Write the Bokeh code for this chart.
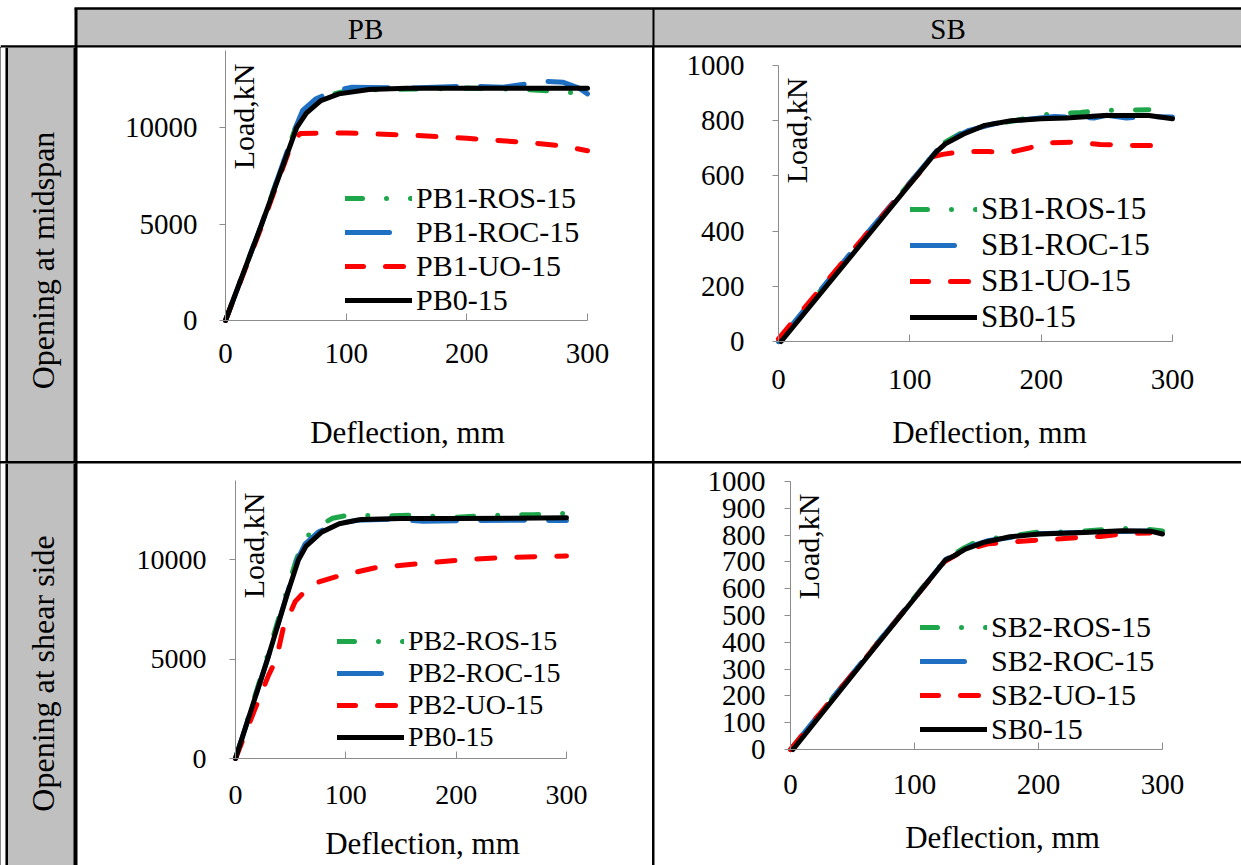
import math
from bokeh.plotting import figure
from bokeh.models import Range1d, FixedTicker, Legend, LegendItem, Label, Row, Column
from bokeh.embed import file_html
from bokeh.resources import INLINE
from bokeh.core.properties import value

FONT = "Times New Roman"

# ---------------- table texts ----------------
col_headers = ["PB", "SB"]
row_headers = ["Opening at midspan", "Opening at shear side"]
x_title = "Deflection, mm"
y_title = "Load,kN"

# ---------------- ticks ----------------
x_ticks = [0, 100, 200, 300]
pb_y_ticks = [0, 5000, 10000]
sb1_y_ticks = [0, 200, 400, 600, 800, 1000]
sb2_y_ticks = [0, 100, 200, 300, 400, 500, 600, 700, 800, 900, 1000]

# ---------------- PB, opening at midspan ----------------
pb1_names = ["PB1-ROS-15", "PB1-ROC-15", "PB1-UO-15", "PB0-15"]
pb1_ros_x = [0, 30, 58, 66, 80, 100, 130, 160, 200, 240, 270, 290, 300]
pb1_ros_y = [0, 5000, 10000, 10900, 11600, 11900, 11980, 12000, 12050, 12000, 11900, 11800, 11900]
pb1_roc_x = [0, 30, 58, 64, 75, 90, 105, 150, 200, 230, 265, 280, 293, 300]
pb1_roc_y = [0, 5000, 10000, 10900, 11500, 11900, 12100, 12050, 12150, 12100, 12400, 12350, 12050, 11750]
pb1_uo_x = [0, 30, 55, 62, 100, 150, 200, 250, 280, 300]
pb1_uo_y = [0, 4900, 9200, 9700, 9720, 9620, 9450, 9230, 9050, 8800]
pb1_ref_x = [0, 30, 59, 67, 79, 94, 119, 150, 200, 250, 300]
pb1_ref_y = [0, 5000, 10000, 10750, 11400, 11750, 11980, 12040, 12040, 12040, 12040]

# ---------------- SB, opening at midspan ----------------
sb1_names = ["SB1-ROS-15", "SB1-ROC-15", "SB1-UO-15", "SB0-15"]
sb1_ros_x = [0, 60, 120, 126, 140, 160, 180, 200, 210, 230, 250, 262, 282]
sb1_ros_y = [0, 345, 690, 720, 758, 785, 800, 820, 825, 830, 838, 838, 840]
sb1_roc_x = [0, 60, 122, 130, 145, 165, 190, 210, 240, 250, 265, 280, 300]
sb1_roc_y = [0, 350, 700, 730, 765, 790, 805, 815, 810, 820, 810, 815, 813]
sb1_uo_x = [0, 60, 118, 125, 140, 160, 175, 190, 205, 225, 245, 270, 290]
sb1_uo_y = [10, 350, 670, 678, 688, 688, 684, 700, 720, 722, 714, 710, 710]
sb1_ref_x = [2, 60, 120, 127, 141, 157, 177, 200, 219, 248, 282, 300]
sb1_ref_y = [0, 337, 686, 716, 752, 783, 800, 807, 810, 819, 819, 807]

# ---------------- PB, opening at shear side ----------------
pb2_names = ["PB2-ROS-15", "PB2-ROC-15", "PB2-UO-15", "PB0-15"]
pb2_ros_x = [0, 28, 55, 62, 72, 88, 105, 130, 160, 200, 230, 270, 300]
pb2_ros_y = [0, 5000, 10000, 11000, 11600, 12100, 12280, 12200, 12250, 12150, 12250, 12280, 12350]
pb2_roc_x = [0, 29, 56, 63, 75, 90, 110, 140, 170, 220, 250, 300]
pb2_roc_y = [0, 5000, 10000, 10800, 11400, 11800, 12000, 12050, 11950, 11980, 12000, 11980]
pb2_uo_x = [0, 17, 30, 37, 43, 54, 69, 94, 128, 178, 211, 245, 300]
pb2_uo_y = [0, 2400, 4200, 5000, 6500, 7900, 8780, 9200, 9620, 9870, 10030, 10120, 10200]
pb2_ref_x = [0, 29, 47, 57, 64, 78, 94, 114, 150, 200, 250, 300]
pb2_ref_y = [0, 5000, 8300, 10000, 10700, 11400, 11820, 12040, 12090, 12090, 12100, 12120]

# ---------------- SB, opening at shear side ----------------
sb2_names = ["SB2-ROS-15", "SB2-ROC-15", "SB2-UO-15", "SB0-15"]
sb2_ros_x = [0, 60, 125, 140, 150, 160, 180, 200, 230, 255, 265, 283, 300]
sb2_ros_y = [0, 340, 710, 752, 775, 785, 798, 812, 812, 822, 825, 825, 815]
sb2_roc_x = [0, 60, 125, 140, 160, 200, 250, 290, 300]
sb2_roc_y = [0, 340, 708, 750, 780, 805, 812, 815, 818]
sb2_uo_x = [0, 60, 124, 135, 145, 160, 180, 200, 215, 235, 250, 270, 290]
sb2_uo_y = [0, 338, 700, 730, 750, 768, 775, 782, 785, 792, 795, 805, 808]
sb2_ref_x = [2, 60, 125, 132, 141, 156, 177, 201, 237, 267, 291, 300]
sb2_ref_y = [0, 335, 707, 723, 748, 773, 794, 804, 810, 816, 814, 804]

# ---------------- styles ----------------
STYLES = [
    dict(line_color="#1ea64b", line_dash="17 24 0 24"),
    dict(line_color="#1f6fc2", line_dash="44 24"),
    dict(line_color="#ff0000", line_dash="18 22"),
    dict(line_color="#000000", line_dash="solid"),
]
AXIS_GREY = "#8c8c8c"
CELL_GREY = "#c0c0c0"


def chart(cell, axes_px, x_max, y_max, y_ticks, xs, ys, names, leg_loc, leg_font,
          tick_font, load_top, title_c, y_standoff, x_standoff):
    cl, ct, W, H = cell
    ax0, ax300, ay0, aytop = axes_px
    sx = (ax300 - ax0) / x_max
    sy = (ay0 - aytop) / y_max

    def X(px):
        return (px - ax0) / sx

    def Y(py):
        return (ay0 - py) / sy

    p = figure(width=W, height=H,
               x_range=Range1d(X(cl), X(cl + W)), y_range=Range1d(Y(ct + H), Y(ct)),
               output_backend="svg", toolbar_location=None, min_border=0)
    p.outline_line_color = None
    p.grid.visible = False
    p.background_fill_color = "white"
    p.border_fill_color = "white"

    xa = p.xaxis[0]
    xa.fixed_location = 0
    xa.bounds = (0, x_max)
    xa.ticker = FixedTicker(ticks=x_ticks)
    xa.axis_line_color = AXIS_GREY
    xa.major_tick_line_color = AXIS_GREY
    xa.major_tick_in = 7
    xa.major_tick_out = 0
    xa.minor_tick_line_color = None
    xa.major_label_standoff = x_standoff
    xa.major_label_text_font = FONT
    xa.major_label_text_font_size = tick_font
    xa.major_label_text_color = "black"

    ya = p.yaxis[0]
    ya.fixed_location = 0
    ya.bounds = (0, y_max)
    ya.ticker = FixedTicker(ticks=y_ticks)
    ya.axis_line_color = AXIS_GREY
    ya.major_tick_line_color = AXIS_GREY
    ya.major_tick_in = 0
    ya.major_tick_out = 6
    ya.minor_tick_line_color = None
    ya.major_label_standoff = y_standoff
    ya.major_label_text_font = FONT
    ya.major_label_text_font_size = tick_font
    ya.major_label_text_color = "black"

    items = []
    for x, y, name, st in zip(xs, ys, names, STYLES):
        r = p.line(x, y, line_width=5, line_cap="round", line_join="round", **st)
        items.append(LegendItem(label=name, renderers=[r]))

    leg = Legend(items=items, location=(leg_loc[0] - cl, ct + H - leg_loc[1]),
                 orientation="vertical",
                 glyph_width=67, glyph_height=18, label_standoff=4,
                 label_text_font=FONT, label_text_font_size=leg_font,
                 label_text_color="black", label_height=18,
                 spacing=0, padding=0, margin=0,
                 background_fill_alpha=0, border_line_alpha=0)
    p.add_layout(leg)

    p.add_layout(Label(x=0, y=Y(load_top), x_offset=1, text=y_title, angle=math.pi / 2,
                       text_align="right", text_baseline="top",
                       text_font=FONT, text_font_size="30px", text_color="black"))
    p.add_layout(Label(x=X(title_c[0]), y=Y(title_c[1]), text=x_title,
                       text_align="center", text_baseline="middle",
                       text_font=FONT, text_font_size="31px", text_color="black"))
    return p


def label_cell(w, h, text, yc):
    p = figure(width=w, height=h, x_range=Range1d(0, w), y_range=Range1d(0, h),
               output_backend="svg", toolbar_location=None,
               x_axis_location=None, y_axis_location=None, min_border=0)
    p.outline_line_color = None
    p.grid.visible = False
    p.background_fill_color = CELL_GREY
    p.border_fill_color = CELL_GREY
    p.quad(left=[0, 5, 73], right=[5, 7.5, w], bottom=[0, 0, 0], top=[h, h, h],
           fill_color=["white", "black", "black"], line_color=None)
    p.text(x=[42], y=[yc], text=[text], angle=math.pi / 2,
           text_align="center", text_baseline="middle",
           text_font=value(FONT), text_font_size="32px", text_color="black")
    return p


# header strip
head = figure(width=1241, height=47, x_range=Range1d(0, 1241), y_range=Range1d(47, 0),
              output_backend="svg", toolbar_location=None,
              x_axis_location=None, y_axis_location=None, min_border=0)
head.outline_line_color = None
head.grid.visible = False
head.background_fill_color = "white"
head.border_fill_color = "white"
head.quad(left=[75], right=[1241], top=[8], bottom=[46], fill_color=CELL_GREY, line_color=None)
head.segment(x0=[74, 0], y0=[8, 46], x1=[1241, 1241], y1=[8, 46], line_color="black", line_width=2.5)
head.segment(x0=[75.5, 653], y0=[8, 8], x1=[75.5, 653], y1=[47, 47], line_color="black", line_width=[3, 2])
head.text(x=[365, 947.5], y=[28, 28], text=col_headers, text_align="center", text_baseline="middle",
          text_font=value(FONT), text_font_size="29px", text_color="black")

pb1 = chart((77, 47, 575, 414), (225, 587, 320, 50), 300, 14000, pb_y_ticks,
            [pb1_ros_x, pb1_roc_x, pb1_uo_x, pb1_ref_x],
            [pb1_ros_y, pb1_roc_y, pb1_uo_y, pb1_ref_y],
            pb1_names, (345, 317), "30px", "29px", 63, (407, 432), 22, 23)
sb1 = chart((654, 47, 587, 414), (778, 1172, 341, 65), 300, 1000, sb1_y_ticks,
            [sb1_ros_x, sb1_roc_x, sb1_uo_x, sb1_ref_x],
            [sb1_ros_y, sb1_roc_y, sb1_uo_y, sb1_ref_y],
            sb1_names, (910, 335), "31px", "29px", 77, (989, 432), 28, 28)
pb2 = chart((77, 463, 575, 402), (235, 566, 758, 480), 300, 14000, pb_y_ticks,
            [pb2_ros_x, pb2_roc_x, pb2_uo_x, pb2_ref_x],
            [pb2_ros_y, pb2_roc_y, pb2_uo_y, pb2_ref_y],
            pb2_names, (337, 753), "28px", "28px", 492, (422, 843), 23, 27)
sb2 = chart((654, 463, 587, 402), (790, 1162, 749, 481), 300, 1000, sb2_y_ticks,
            [sb2_ros_x, sb2_roc_x, sb2_uo_x, sb2_ref_x],
            [sb2_ros_y, sb2_roc_y, sb2_uo_y, sb2_ref_y],
            sb2_names, (920, 746), "30px", "29px", 493, (1002, 837), 19, 25)

lab1 = label_cell(75, 414, row_headers[0], 461 - 260)
lab2 = label_cell(75, 402, row_headers[1], 865 - 673)

black_bg = {"background-color": "black"}
r1 = Row(children=[lab1, pb1, sb1], spacing=2, styles=black_bg)
r2 = Row(children=[lab2, pb2, sb2], spacing=2, styles=black_bg)
body = Column(children=[r1, r2], spacing=2, styles=black_bg)
root = Column(children=[head, body], spacing=0)

open("out.html", "w").write(file_html(root, INLINE))
